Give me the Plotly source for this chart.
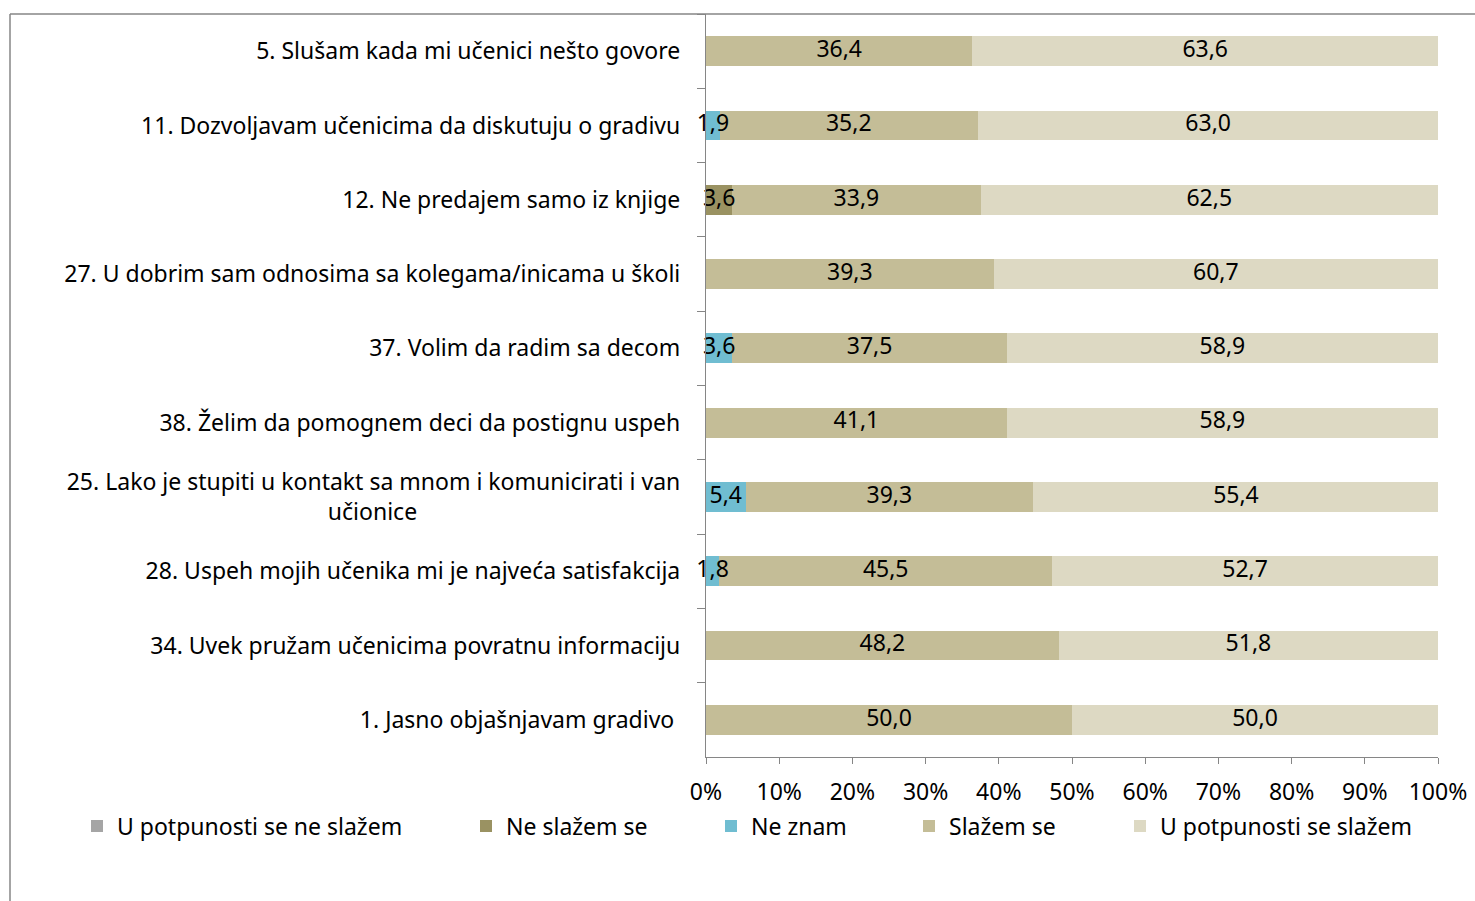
import plotly.graph_objects as go

NB = "\u00a0"
categories = [
    "5. Slušam kada mi učenici nešto govore",
    "11. Dozvoljavam učenicima da diskutuju o gradivu",
    "12. Ne predajem samo iz knjige",
    "27. U dobrim sam odnosima sa kolegama/inicama u školi",
    "37. Volim da radim sa decom",
    "38. Želim da pomognem deci da postignu uspeh",
    "25. Lako je stupiti u kontakt sa mnom i komunicirati i van<br>učionice" + NB * 44,
    "28. Uspeh mojih učenika mi je najveća satisfakcija",
    "34. Uvek pružam učenicima povratnu informaciju",
    "1. Jasno objašnjavam gradivo" + NB,
]

series_names = ["U potpunosti se ne slažem", "Ne slažem se", "Ne znam", "Slažem se", "U potpunosti se slažem"]
u_potp_ne = [0, 0, 0, 0, 0, 0, 0, 0, 0, 0]
ne_slazem = [0, 0, 3.6, 0, 0, 0, 0, 0, 0, 0]
ne_znam = [0, 1.9, 0, 0, 3.6, 0, 5.4, 1.8, 0, 0]
slazem = [36.4, 35.2, 33.9, 39.3, 37.5, 41.1, 39.3, 45.5, 48.2, 50.0]
u_potp = [63.6, 63.0, 62.5, 60.7, 58.9, 58.9, 55.4, 52.7, 51.8, 50.0]

series_values = [u_potp_ne, ne_slazem, ne_znam, slazem, u_potp]
colors = ["#A5A5A5", "#9A9262", "#70BDD1", "#C4BD97", "#DDD9C3"]

FONT = "Noto Sans"
FS = 23

# plot area in pixels
W, H = 1475, 901
L, R, T, B = 706, 37, 14, 144

legend_px = [77, 466, 711, 909, 1120]

fig = go.Figure()
for i, (name, vals, col) in enumerate(zip(series_names, series_values, colors)):
    fig.add_trace(go.Bar(
        y=categories, x=vals, orientation="h", name=name,
        marker=dict(color=col, line=dict(width=0)),
        hoverinfo="skip",
        legend="legend" if i == 0 else f"legend{i+1}",
    ))

# data labels on top of all bars (centred in each segment)
lab_x, lab_y, lab_t = [], [], []
cum = [0.0] * len(categories)
for vals in series_values:
    for j, v in enumerate(vals):
        if v > 0:
            lab_x.append(cum[j] + v / 2)
            lab_y.append(categories[j])
            lab_t.append(f"{v:.1f}".replace(".", ","))
        cum[j] += v

fig.add_trace(go.Scatter(
    x=lab_x, y=lab_y, text=lab_t, mode="text",
    textposition="middle center",
    textfont=dict(family=FONT, size=FS, color="black"),
    showlegend=False, hoverinfo="skip", cliponaxis=False,
))

layout_legends = {}
for i, lx in enumerate(legend_px):
    key = "legend" if i == 0 else f"legend{i+1}"
    layout_legends[key] = dict(
        xref="container", yref="container",
        x=lx / W, y=1 - 826 / H, xanchor="left", yanchor="middle",
        orientation="h", font=dict(family=FONT, size=FS, color="black"),
        bgcolor="rgba(0,0,0,0)", itemwidth=30,
    )

fig.update_layout(
    width=W, height=H,
    margin=dict(l=L, r=R, t=T, b=B, autoexpand=False),
    barmode="stack", bargap=0.6,
    plot_bgcolor="white", paper_bgcolor="white",
    separators=",.",
    showlegend=True,
    font=dict(family=FONT, size=FS, color="black"),
    xaxis=dict(
        range=[0, 100], dtick=10, tick0=0, ticksuffix="%",
        ticks="outside", ticklen=6, tickcolor="#868686", tickwidth=1.3,
        showline=True, linecolor="#868686", linewidth=1.3,
        showgrid=False, zeroline=False, fixedrange=True,
        ticklabelstandoff=8,
        tickfont=dict(family=FONT, size=FS, color="black"),
    ),
    yaxis=dict(
        autorange="reversed", type="category",
        ticks="outside", ticklen=8, tickcolor="#868686", tickwidth=1.3,
        tickson="boundaries",
        showline=True, linecolor="#868686", linewidth=1.3,
        showgrid=False, zeroline=False, fixedrange=True,
        ticklabelstandoff=20,
        tickfont=dict(family=FONT, size=FS, color="black"),
    ),
    shapes=[
        dict(type="line", xref="paper", yref="paper",
             x0=(10 - L) / (W - L - R), x1=(W - L) / (W - L - R), y0=1, y1=1,
             line=dict(color="#868686", width=1.5)),
        dict(type="line", xref="paper", yref="paper",
             x0=(10 - L) / (W - L - R), x1=(10 - L) / (W - L - R),
             y0=1, y1=-B / (H - T - B),
             line=dict(color="#868686", width=1.5)),
    ],
    **layout_legends,
)

fig.write_html(
    "out.html",
    config={"displayModeBar": False},
    post_script="document.body.style.margin='0px';document.body.style.overflow='hidden';",
)
